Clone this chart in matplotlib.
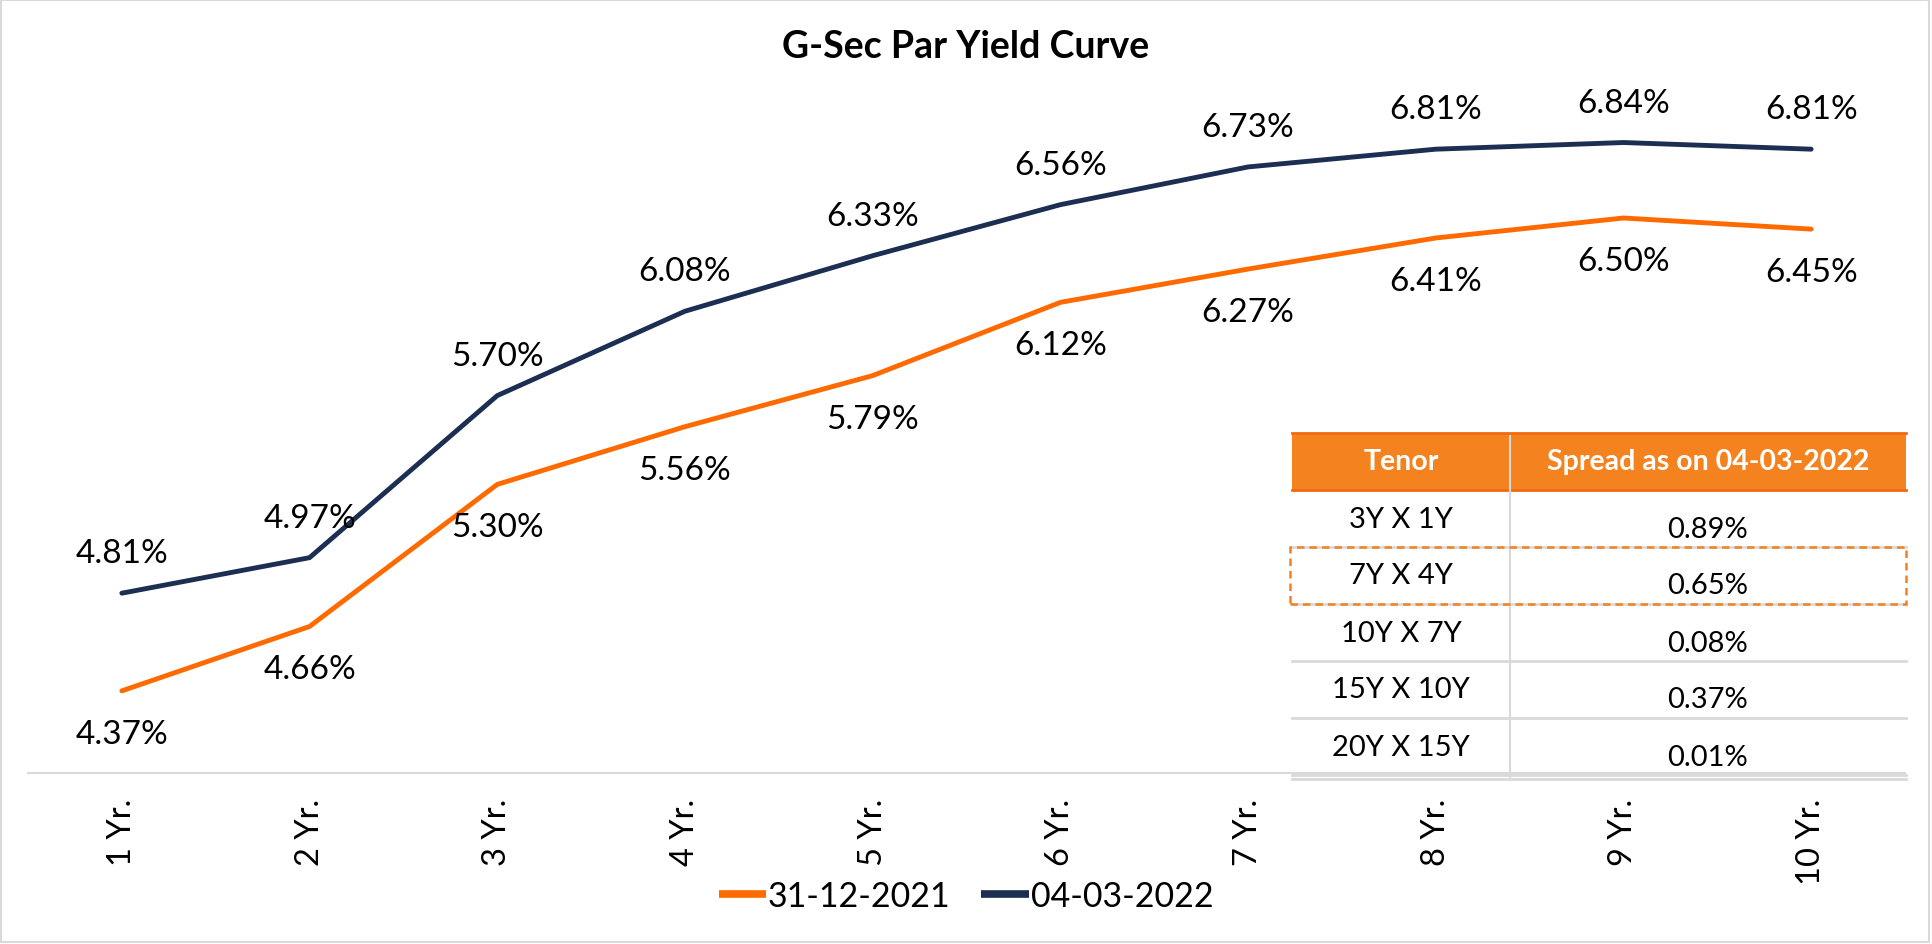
import matplotlib.pyplot as plt
from matplotlib.patches import Rectangle
from matplotlib.lines import Line2D

# chart data
tenors = ["1 Yr.", "2 Yr.", "3 Yr.", "4 Yr.", "5 Yr.", "6 Yr.", "7 Yr.", "8 Yr.", "9 Yr.", "10 Yr."]
yield_dec21 = [4.37, 4.66, 5.30, 5.56, 5.79, 6.12, 6.27, 6.41, 6.50, 6.45]
yield_mar22 = [4.81, 4.97, 5.70, 6.08, 6.33, 6.56, 6.73, 6.81, 6.84, 6.81]
series_names = ["31-12-2021", "04-03-2022"]

# spread table
table_header = ["Tenor", "Spread as on 04-03-2022"]
spread_tenors = ["3Y X 1Y", "7Y X 4Y", "10Y X 7Y", "15Y X 10Y", "20Y X 15Y"]
spread_values = ["0.89%", "0.65%", "0.08%", "0.37%", "0.01%"]
highlight_row = 1

ORANGE = "#FF6A00"
NAVY = "#1C2E52"
HEAD = "#F4821F"
GRID = "#D9D9D9"

plt.rcParams["font.family"] = ["Lato", "DejaVu Sans"]

W, H = 1933, 945
fig = plt.figure(figsize=(W / 100, H / 100), dpi=100)


def fx(x):
    return x / W


def fy(y):
    return 1 - y / H


# outer chart border
fig.add_artist(Rectangle((fx(1), fy(943)), fx(1928), (942) / H, transform=fig.transFigure,
                         fill=False, edgecolor=GRID, lw=1.5))

ax = fig.add_axes([fx(28), fy(774), (1905 - 28) / W, (774 - 108) / H])
x = list(range(len(tenors)))
ax.plot(x, yield_dec21, color=ORANGE, lw=3.5, label=series_names[0], solid_capstyle="round", zorder=3)
ax.plot(x, yield_mar22, color=NAVY, lw=3.5, label=series_names[1], solid_capstyle="round", zorder=3)

for xi, v in zip(x, yield_mar22):
    ax.annotate(f"{v:.2f}%", (xi, v), xytext=(0, 40), textcoords="offset pixels",
                ha="center", va="center", fontsize=24, color="black", annotation_clip=False)
for xi, v in zip(x, yield_dec21):
    ax.annotate(f"{v:.2f}%", (xi, v), xytext=(0, -43), textcoords="offset pixels",
                ha="center", va="center", fontsize=24, color="black", annotation_clip=False)

ax.set_xlim(-0.5, len(tenors) - 0.5)
ax.set_ylim(4.0, 7.0)
ax.set_xticks(x)
ax.set_xticklabels(tenors, rotation=90, fontsize=23.5, va="top", ha="center")
ax.tick_params(axis="x", length=0, pad=18)
ax.set_yticks([])
for s in ["top", "left", "right"]:
    ax.spines[s].set_visible(False)
ax.spines["bottom"].set_color(GRID)
ax.spines["bottom"].set_linewidth(1.5)

fig.text(fx(966), fy(47), "G-Sec Par Yield Curve", ha="center", va="center",
         fontsize=27, fontweight="bold")

leg = fig.legend(loc="center", bbox_to_anchor=(fx(966), fy(897)), ncol=2, frameon=False,
                 fontsize=24.5, handlelength=1.4, handletextpad=0.05, columnspacing=0.9)
for h in leg.get_lines():
    h.set_linewidth(5.5)
    h.set_solid_capstyle("butt")

# spread table drawn in figure pixels
tl, tr, tdiv = 1292, 1906, 1510
head_top, head_bot = 434, 491
row_h = 57
col_centers = [(tl + tdiv) / 2, (tdiv + tr) / 2]

fig.add_artist(Rectangle((fx(tl), fy(head_bot)), (tr - tl) / W, (head_bot - head_top) / H,
                         transform=fig.transFigure, facecolor=HEAD, edgecolor="none"))
for yy in [head_top, head_bot]:
    fig.add_artist(Line2D([fx(tl), fx(tr)], [fy(yy), fy(yy)], transform=fig.transFigure,
                          color="#F26A10", lw=2))
for c, t in zip(col_centers, table_header):
    fig.text(fx(c), fy((head_top + head_bot) / 2), t, ha="center", va="center",
             fontsize=20.5, fontweight="bold", color="white")

n = len(spread_tenors)
table_bot = head_bot + n * row_h
fig.add_artist(Line2D([fx(tdiv), fx(tdiv)], [fy(head_top + 3), fy(table_bot + 3)],
                      transform=fig.transFigure, color=GRID, lw=1.5))
for i in range(n):
    top = head_bot + i * row_h
    bot = top + row_h
    fig.add_artist(Line2D([fx(tl), fx(tr)], [fy(bot), fy(bot)], transform=fig.transFigure,
                          color=GRID, lw=2))
    fig.text(fx(col_centers[0]), fy(top + row_h / 2), spread_tenors[i], ha="center",
             va="center", fontsize=21)
    fig.text(fx(col_centers[1]), fy(top + row_h / 2 + 10), spread_values[i], ha="center",
             va="center", fontsize=21)
fig.add_artist(Line2D([fx(tl), fx(tr)], [fy(table_bot + 4), fy(table_bot + 4)],
                      transform=fig.transFigure, color=GRID, lw=2))

hb_top = head_bot + highlight_row * row_h
fig.add_artist(Rectangle((fx(tl - 2), fy(hb_top + row_h)), (tr - tl + 2) / W, row_h / H,
                         transform=fig.transFigure, fill=False, edgecolor=HEAD, lw=1.8,
                         linestyle=(0, (3, 2)), zorder=5))

fig.savefig("out.png", dpi=100)
